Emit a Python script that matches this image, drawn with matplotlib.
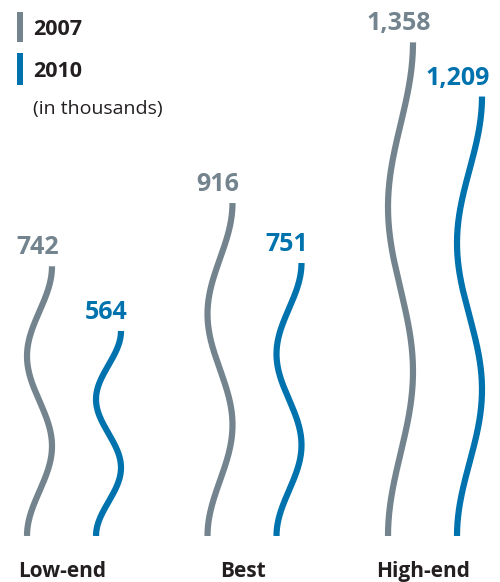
import numpy as np
import matplotlib
matplotlib.use("Agg")
import matplotlib.pyplot as plt
from matplotlib.lines import Line2D

categories = ["Low-end", "Best", "High-end"]
series = ["2007", "2010"]
values_2007 = [742, 916, 1358]
values_2010 = [564, 751, 1209]
labels_2007 = ["742", "916", "1,358"]
labels_2010 = ["564", "751", "1,209"]
unit_note = "(in thousands)"

GRAY = "#73848e"
BLUE = "#0072ae"
TEXT = "#231f20"
FONT = ["Open Sans", "DejaVu Sans"]

W, H, DPI = 500, 582, 100
fig = plt.figure(figsize=(W / DPI, H / DPI), dpi=DPI)
base_px = 536
ax = fig.add_axes([0, (H - base_px) / H, 1, base_px / H])
px_per_unit = 0.3635
ax.set_ylim(0, base_px / px_per_unit)
spacing_px = 180.5
first_px = 74
ax.set_xlim(-first_px / spacing_px, (W - first_px) / spacing_px)
ax.axis("off")

offset = 34.5 / spacing_px
amp = 12.5 / spacing_px
t = np.linspace(0, 1, 400)
lw_pt = 6.2 * 72 / DPI

value_texts = []
for i, cat in enumerate(categories):
    for vals, labs, col, sgn in ((values_2007, labels_2007, GRAY, -1),
                                 (values_2010, labels_2010, BLUE, 1)):
        v = vals[i]
        xc = i + sgn * offset
        xs = xc - amp * np.cos(3 * np.pi * t)
        ys = t * v
        ax.plot(xs, ys, color=col, lw=lw_pt, solid_capstyle="butt",
                solid_joinstyle="round")
        value_texts.append(
            ax.annotate(labs[i], (xc, v), xytext=(-2, 12), textcoords="offset pixels",
                        ha="center", va="baseline", fontsize=18, fontweight="bold",
                        color=col, family=FONT))
    ax.annotate(cat, (i - 12 / spacing_px, 0), xytext=(0, -41),
                textcoords="offset pixels", ha="center", va="baseline",
                fontsize=15, fontweight="bold", color=TEXT, family=FONT,
                annotation_clip=False)

# keep value labels inside the figure
fig.canvas.draw()
renderer = fig.canvas.get_renderer()
for txt in value_texts:
    bb = txt.get_window_extent(renderer)
    over = bb.x1 - (W - 10)
    if over > 0:
        dx, dy = txt.xyann
        txt.xyann = (dx - over, dy)

# legend
for (y0, y1), col, lab, base in (((12, 42), GRAY, series[0], 35),
                                 ((53, 85), BLUE, series[1], 77)):
    fig.add_artist(Line2D([20 / W, 20 / W], [1 - y0 / H, 1 - y1 / H],
                          color=col, lw=6 * 72 / DPI, solid_capstyle="butt"))
    fig.text(33 / W, 1 - base / H, lab, ha="left", va="baseline",
             fontsize=15.5, fontweight="bold", color=TEXT, family=FONT)
fig.text(33 / W, 1 - 114 / H, unit_note, ha="left", va="baseline",
         fontsize=14, color=TEXT, family=FONT)

fig.savefig("out.png", dpi=DPI)
